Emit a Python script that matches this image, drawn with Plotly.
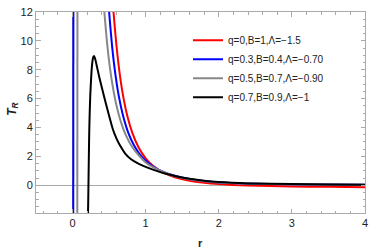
import plotly.graph_objects as go

# ---- data ----
labels = ["q=0,B=1,Λ=−1.5", "q=0.3,B=0.4,Λ=−0.70", "q=0.5,B=0.7,Λ=−0.90", "q=0.7,B=0.9,Λ=−1"]
colors = ["#ff0000", "#0000ff", "#888888", "#000000"]

red_r = [0.52, 0.56, 0.60, 0.65, 0.70, 0.75, 0.82, 0.90, 1.00, 1.10, 1.25, 1.40, 1.60, 1.80, 2.00, 2.40, 3.00, 3.50, 4.00]
red_t = [15.2, 12.0, 9.7, 7.53, 5.95, 4.78, 3.59, 2.65, 1.87, 1.35, 0.86, 0.56, 0.32, 0.18, 0.09, -0.02, -0.08, -0.11, -0.13]

blue_r = [0.008, 0.012, None, 0.47, 0.50, 0.54, 0.58, 0.63, 0.69, 0.76, 0.84, 0.92, 1.00, 1.10, 1.25, 1.40, 1.60, 1.80, 2.00, 2.40, 3.00, 3.50, 4.00]
blue_t = [-20, 20, None, 14.3, 12.0, 9.67, 7.9, 6.24, 4.83, 3.67, 2.77, 2.14, 1.70, 1.30, 0.91, 0.66, 0.43, 0.29, 0.20, 0.12, 0.07, 0.05, 0.04]

gray_r = [0.062, 0.068, None, 0.40, 0.435, 0.47, 0.51, 0.55, 0.60, 0.66, 0.73, 0.82, 0.92, 1.00, 1.10, 1.25, 1.40, 1.60, 1.80, 2.00, 2.40, 3.00, 3.50, 4.00]
gray_t = [-20, 20, None, 14.7, 12.0, 9.96, 8.19, 6.84, 5.54, 4.41, 3.46, 2.62, 1.99, 1.58, 1.25, 0.90, 0.62, 0.42, 0.28, 0.20, 0.12, 0.07, 0.05, 0.04]

black_r = [0.208, 0.214, 0.219, 0.224, 0.229, 0.235, 0.243, 0.255, 0.268, 0.282, 0.295, 0.31, 0.33, 0.365, 0.42, 0.49, 0.55, 0.60, 0.65, 0.72, 0.80, 0.90, 1.00, 1.10, 1.25, 1.40, 1.60, 1.80, 2.00, 2.40, 3.00, 3.50, 4.00]
black_t = [-3.0, -1.2, 0.6, 2.4, 3.9, 5.1, 6.3, 7.5, 8.4, 8.85, 8.95, 8.75, 8.3, 7.5, 6.37, 5.0, 3.9, 3.25, 2.75, 2.2, 1.8, 1.5, 1.27, 1.08, 0.83, 0.64, 0.45, 0.31, 0.22, 0.13, 0.08, 0.055, 0.04]

series = [(red_r, red_t), (blue_r, blue_t), (gray_r, gray_t), (black_r, black_t)]

x_range = [-0.5, 4]
y_range = [-1.92, 12]
x_ticks = [0, 1, 2, 3, 4]
y_ticks = [0, 2, 4, 6, 8, 10, 12]
x_title = "<b>r</b>"
y_title = "<b><i>T</i><sub><i>R</i></sub></b>"

fig = go.Figure()
for (xs, ys), name, col in zip(series, labels, colors):
    fig.add_trace(go.Scatter(x=xs, y=ys, mode="lines", name=name,
                             line=dict(color=col, width=2, shape="spline", smoothing=0.6),
                             connectgaps=False))

frame = "#aaaaaa"
font_family = "Liberation Sans, Arial, sans-serif"
tickfont = dict(family=font_family, size=11, color="#222222")
titlefont = dict(family=font_family, size=12, color="#222222")

fig.update_layout(
    width=374, height=251,
    margin=dict(l=36, r=6, t=7, b=38),
    paper_bgcolor="white", plot_bgcolor="white",
    showlegend=True,
    legend=dict(x=0.462, y=0.932, xanchor="left", yanchor="top",
                bgcolor="rgba(255,255,255,0)",
                font=dict(family=font_family, size=10, color="#222222"),
                tracegroupgap=0),
    xaxis=dict(range=x_range, tickvals=x_ticks, ticktext=[str(v) for v in x_ticks],
               showgrid=False, zeroline=True, zerolinecolor=frame, zerolinewidth=1,
               showline=True, linecolor=frame, linewidth=1, mirror="allticks",
               ticks="inside", ticklen=4.5, tickcolor=frame, tickfont=tickfont,
               minor=dict(dtick=0.2, tick0=0, ticks="inside", ticklen=2.5, tickcolor=frame, showgrid=False)),
    yaxis=dict(range=y_range, tickvals=y_ticks, ticktext=[str(v) for v in y_ticks],
               showgrid=False, zeroline=True, zerolinecolor=frame, zerolinewidth=1,
               showline=True, linecolor=frame, linewidth=1, mirror="allticks",
               ticks="inside", ticklen=4.5, tickcolor=frame, tickfont=tickfont,
               minor=dict(dtick=0.5, tick0=0, ticks="inside", ticklen=2.5, tickcolor=frame, showgrid=False)),
    annotations=[
        dict(text=x_title, xref="paper", yref="paper", x=0.5, y=-0.150,
             xanchor="center", yanchor="middle", showarrow=False, font=dict(family=font_family, size=11, color="#222222")),
        dict(text=y_title, xref="paper", yref="paper", x=-0.069, y=0.515, textangle=-90,
             xanchor="center", yanchor="middle", showarrow=False, font=titlefont),
    ],
)

fig.write_html("out.html", config={"displayModeBar": False},
               post_script="document.body.style.margin='0';")
